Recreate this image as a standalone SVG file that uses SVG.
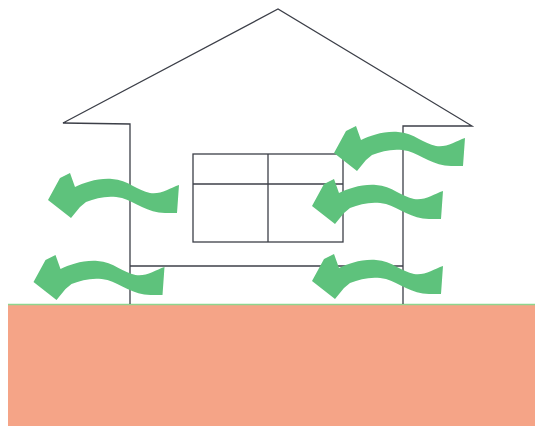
<svg xmlns="http://www.w3.org/2000/svg" xmlns:xlink="http://www.w3.org/1999/xlink" width="535" height="426" viewBox="0 0 535 426">
  <style>
    .line { fill: none; stroke: #3c3f48; stroke-width: 1.3; stroke-linejoin: miter; }
    .wind { fill: #5ec27c; }
  </style>
  <defs>
    <!-- wavy wind arrow, head pointing left -->
    <path id="windArrow" d="M177,213 L179,185 C170,188 160,195 150,193 C138,191 128,180 112,179 C97,178 84,183 75,187 L70,173 L60,178 L48,200 L71,218 L80,207 L86,202 C97,198 108,195 122,198 C135,202 148,213 165,213 Z"/>
  </defs>

  <rect width="535" height="426" fill="#ffffff"/>

  <!-- ground -->
  <g id="ground">
    <rect x="8" y="305" width="527" height="121" fill="#f5a487"/>
    <line x1="8" y1="304.5" x2="535" y2="304.5" stroke="#8ed58e" stroke-width="1.6"/>
  </g>

  <!-- house -->
  <g id="house">
    <polyline class="line" points="130,304 130,124 63,123 278,9 472,126 403,126 403,304"/>
    <line class="line" x1="130" y1="266" x2="403" y2="266"/>
  </g>

  <g id="window">
    <rect class="line" x="193" y="154" width="150" height="88"/>
    <line class="line" x1="268" y1="154" x2="268" y2="242"/>
    <line class="line" x1="193" y1="184" x2="343" y2="184"/>
  </g>

  <!-- wind arrows -->
  <g id="arrows" class="wind">
    <use xlink:href="#windArrow"/>
    <use xlink:href="#windArrow" transform="translate(-14.5,82)"/>
    <use xlink:href="#windArrow" transform="translate(286,-47)"/>
    <use xlink:href="#windArrow" transform="translate(264,6)"/>
    <use xlink:href="#windArrow" transform="translate(264,81)"/>
  </g>
</svg>
